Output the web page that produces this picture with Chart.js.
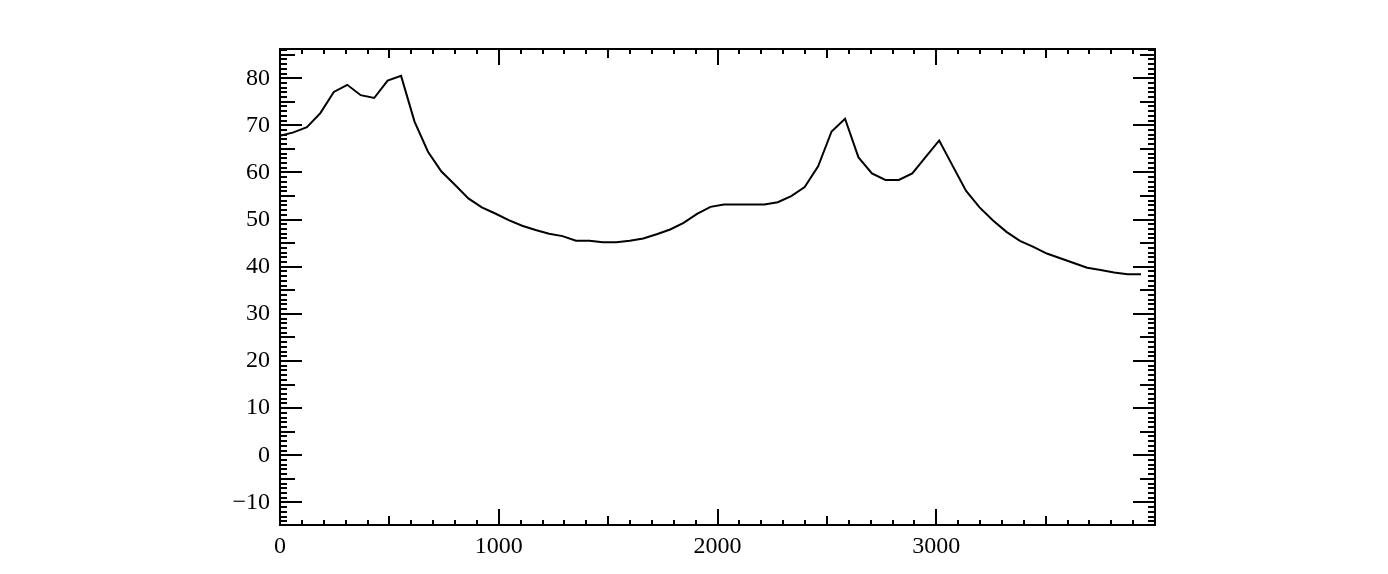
<!DOCTYPE html>
<html><head><meta charset="utf-8">
<script src="https://cdn.jsdelivr.net/npm/chart.js@4.4.1/dist/chart.umd.min.js"></script>
<style>html,body{margin:0;padding:0;background:#fff;overflow:hidden}canvas{display:block}</style>
</head><body>
<canvas id="c" width="1388" height="574"></canvas>
<script>
const xValues = [0, 61.5, 123, 184.5, 246, 307.5, 369, 430.5, 492, 553.5,
  615, 676.5, 738, 799.5, 861, 922.5, 984, 1045.5, 1107, 1168.5,
  1230, 1291.5, 1353, 1414.5, 1476, 1537.5, 1599, 1660.5, 1722, 1783.5,
  1845, 1906.5, 1968, 2029.5, 2091, 2152.5, 2214, 2275.5, 2337, 2398.5,
  2460, 2521.5, 2583, 2644.5, 2706, 2767.5, 2829, 2890.5, 2952, 3013.5,
  3075, 3136.5, 3198, 3259.5, 3321, 3382.5, 3444, 3505.5, 3567, 3628.5,
  3690, 3751.5, 3813, 3874.5, 3936];
const yValues = [67.8, 68.5, 69.6, 72.6, 77.1, 78.6, 76.4, 75.8, 79.5, 80.5,
  70.8, 64.4, 60.2, 57.4, 54.5, 52.6, 51.3, 49.9, 48.7, 47.8,
  47.0, 46.5, 45.5, 45.5, 45.2, 45.2, 45.5, 46.0, 46.9, 47.9,
  49.3, 51.2, 52.7, 53.2, 53.2, 53.2, 53.2, 53.7, 55.0, 56.9,
  61.3, 68.7, 71.4, 63.2, 59.8, 58.4, 58.4, 59.8, 63.3, 66.8,
  61.4, 56.1, 52.6, 49.8, 47.4, 45.5, 44.2, 42.8, 41.8, 40.8,
  39.8, 39.3, 38.8, 38.4, 38.4];
const xTickLabels = [0, 1000, 2000, 3000];
const yTickLabels = [-10, 0, 10, 20, 30, 40, 50, 60, 70, 80];
const xRange = [0, 4000];
const yRange = [-14.8, 86.2];

const points = xValues.map((x, i) => ({ x: x, y: yValues[i] }));

const boxTicks = {
  id: 'boxTicks',
  afterDraw(chart) {
    const ctx = chart.ctx;
    const a = chart.chartArea;
    const xs = chart.scales.x, ys = chart.scales.y;
    ctx.save();
    ctx.strokeStyle = '#000';
    ctx.lineWidth = 2;
    ctx.lineCap = 'butt';
    ctx.beginPath();
    for (let v = Math.ceil(xs.min / 100) * 100; v <= xs.max; v += 100) {
      const p = Math.round(xs.getPixelForValue(v));
      let L = 5;
      if (v % 1000 === 0) L = 16; else if (v % 500 === 0) L = 9;
      ctx.moveTo(p, a.bottom); ctx.lineTo(p, a.bottom - L);
      ctx.moveTo(p, a.top); ctx.lineTo(p, a.top + L);
    }
    for (let v = Math.ceil(ys.min); v <= ys.max; v += 1) {
      const p = Math.round(ys.getPixelForValue(v));
      let L = 7;
      if (v % 10 === 0) L = 22; else if (v % 5 === 0) L = 15;
      ctx.moveTo(a.left, p); ctx.lineTo(a.left + L, p);
      ctx.moveTo(a.right, p); ctx.lineTo(a.right - L, p);
    }
    ctx.stroke();
    ctx.beginPath();
    ctx.rect(a.left, a.top, a.right - a.left, a.bottom - a.top);
    ctx.stroke();
    ctx.restore();
  }
};

const fmt = v => (v < 0 ? '\u2212' + Math.abs(v) : String(v));

new Chart(document.getElementById('c'), {
  type: 'line',
  data: {
    datasets: [{
      data: points,
      borderColor: '#000',
      borderWidth: 2,
      pointRadius: 0,
      tension: 0,
      fill: false
    }]
  },
  options: {
    responsive: false,
    animation: false,
    devicePixelRatio: 1,
    layout: { padding: { left: 200, right: 233, top: 49, bottom: 0 } },
    plugins: { legend: { display: false }, tooltip: { enabled: false } },
    scales: {
      x: {
        type: 'linear',
        min: xRange[0], max: xRange[1],
        grid: { display: false, drawTicks: false },
        border: { display: false },
        afterBuildTicks: s => { s.ticks = xTickLabels.map(v => ({ value: v })); },
        afterFit: s => { s.height = 49; },
        ticks: {
          color: '#000', padding: 7, maxRotation: 0, autoSkip: false,
          font: { family: 'Liberation Serif', size: 24 },
          callback: v => fmt(v)
        }
      },
      y: {
        type: 'linear',
        min: yRange[0], max: yRange[1],
        grid: { display: false, drawTicks: false },
        border: { display: false },
        afterBuildTicks: s => { s.ticks = yTickLabels.map(v => ({ value: v })); },
        afterFit: s => { s.width = 80; },
        ticks: {
          color: '#000', padding: 10, autoSkip: false,
          font: { family: 'Liberation Serif', size: 24 },
          callback: v => fmt(v)
        }
      }
    }
  },
  plugins: [boxTicks]
});
</script>
</body></html>
